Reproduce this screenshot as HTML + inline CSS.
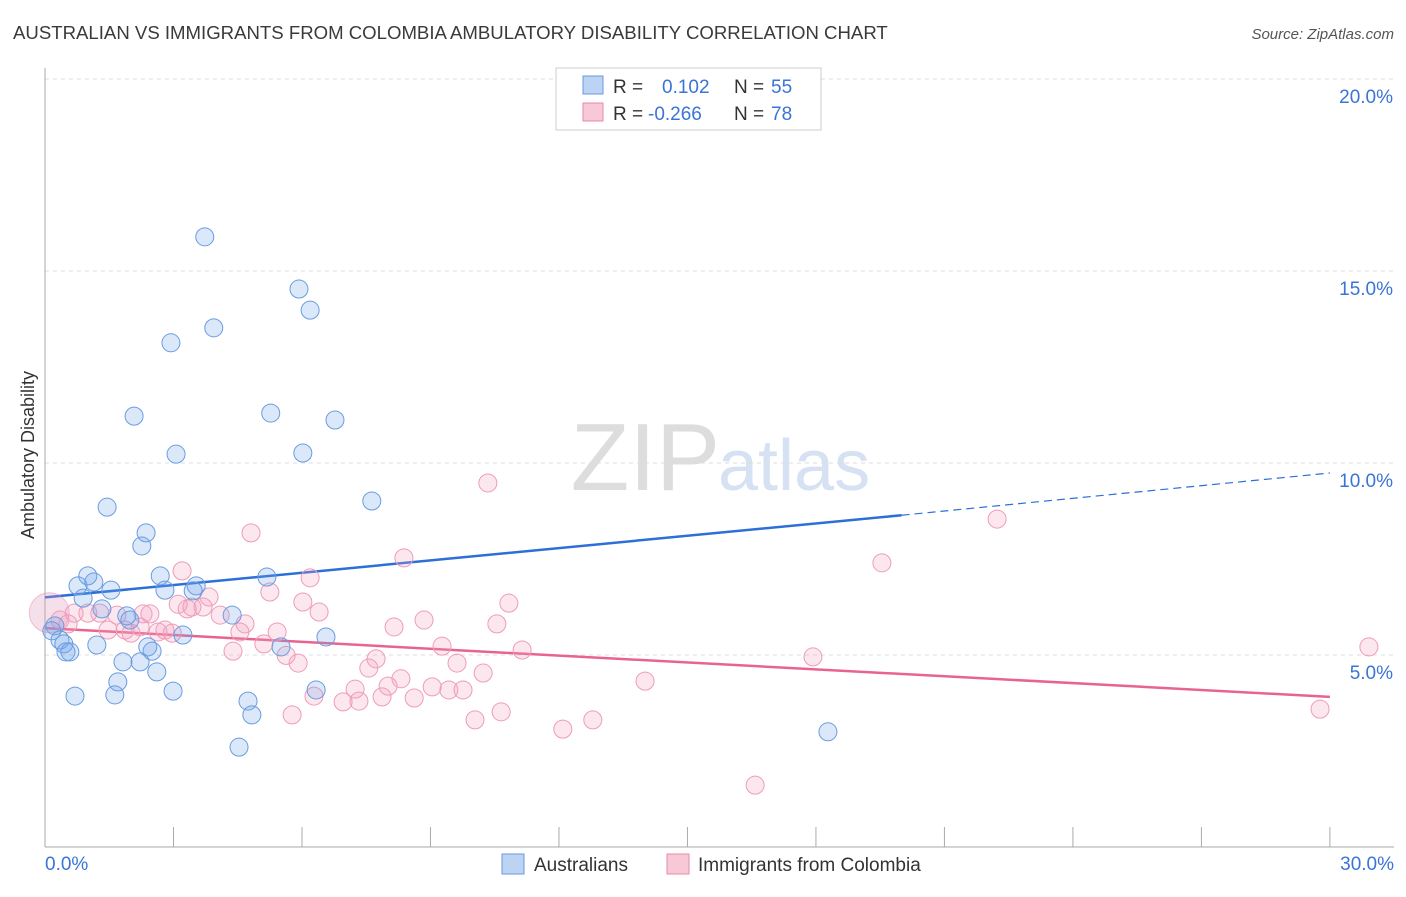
<!DOCTYPE html>
<html><head><meta charset="utf-8"><style>
body{margin:0;background:#fff;font-family:"Liberation Sans",sans-serif;}
svg text{font-family:"Liberation Sans",sans-serif;}
</style></head><body>
<svg id="c" width="1406" height="892">
<text x="13" y="39" font-size="18.6" fill="#3a3a3a">AUSTRALIAN VS IMMIGRANTS FROM COLOMBIA AMBULATORY DISABILITY CORRELATION CHART</text>
<text x="1394" y="39" font-size="15" fill="#555" font-style="italic" text-anchor="end">Source: ZipAtlas.com</text>
<text x="720" y="490" font-size="96" fill="#ddd" text-anchor="end" font-family="Liberation Serif">ZIP</text>
<text x="718" y="490" font-size="72" fill="#d6e2f3">atlas</text>
<text transform="translate(34,455) rotate(-90)" font-size="18" fill="#333" text-anchor="middle">Ambulatory Disability</text>
<g id="grid"></g><g id="ticks"></g><g id="lines"></g><g id="pts"></g>
<g>
<rect x="556" y="68" width="265" height="62" fill="#fff" stroke="#ccc"/>
<rect x="583" y="76" width="20" height="18" fill="#bcd3f3" stroke="#6a9ae0"/>
<text x="613" y="93" font-size="19" fill="#333">R =</text><text x="662" y="93" font-size="19" fill="#3a74d6">0.102</text>
<text x="734" y="93" font-size="19" fill="#333">N =</text><text x="771" y="93" font-size="19" fill="#3a74d6">55</text>
<rect x="583" y="103" width="20" height="18" fill="#f9c8d7" stroke="#e889a8"/>
<text x="613" y="120" font-size="19" fill="#333">R =</text><text x="648" y="120" font-size="19" fill="#3a74d6">-0.266</text>
<text x="734" y="120" font-size="19" fill="#333">N =</text><text x="771" y="120" font-size="19" fill="#3a74d6">78</text>
</g>
<g>
<rect x="502" y="854" width="22" height="20" fill="#bcd3f3" stroke="#6a9ae0"/>
<text x="534" y="871" font-size="19" fill="#333">Australians</text>
<rect x="667" y="854" width="22" height="20" fill="#f9c8d7" stroke="#e889a8"/>
<text x="698" y="871" font-size="19" fill="#333">Immigrants from Colombia</text>
</g>
</svg>
<script>
const yTicks=[5,10,15,20];
const xTickLabels=["0.0%","30.0%"];
const blueX=[3.73,5.93,6.19,3.94,2.94,2.08,5.27,6.77,3.06,6.02,7.63,1.45,2.36,2.26,1.00,0.77,1.14,2.69,5.18,1.54,2.80,3.53,3.46,0.89,1.33,1.91,4.37,1.98,0.23,0.16,0.35,0.44,1.21,3.22,6.56,2.40,2.50,0.49,0.58,1.82,2.22,2.61,5.51,1.70,2.99,0.70,1.63,6.33,4.74,4.83,4.53,18.28];
const blueY=[15.89,14.53,13.98,13.52,13.13,11.22,11.30,11.12,10.23,10.26,9.01,8.85,8.18,7.84,7.06,6.80,6.90,7.06,7.03,6.69,6.69,6.80,6.67,6.48,6.20,6.02,6.04,5.91,5.76,5.63,5.39,5.29,5.26,5.52,5.47,5.21,5.10,5.08,5.08,4.82,4.82,4.56,5.21,4.30,4.06,3.93,3.96,4.09,3.80,3.44,2.60,3.00];
const pinkX=[10.34,22.23,4.81,8.38,19.54,3.20,6.19,5.25,3.83,6.02,3.11,3.43,3.69,10.83,6.40,8.85,1.00,0.68,1.28,1.68,2.29,2.45,0.35,0.54,4.09,4.67,3.32,10.55,8.15,2.22,1.47,1.87,2.01,2.64,2.80,2.97,4.55,5.42,5.11,4.39,5.63,5.91,9.27,11.14,7.73,9.62,17.93,30.91,7.56,8.31,10.23,14.01,7.24,8.01,9.04,9.43,9.76,6.28,6.96,7.33,7.87,8.62,5.77,10.04,10.65,12.09,12.79,29.77,16.58];
const pinkY=[9.48,8.54,8.18,7.53,7.40,7.19,7.01,6.64,6.51,6.38,6.32,6.25,6.25,6.35,6.12,5.91,6.09,6.09,6.09,6.04,6.07,6.07,5.91,5.81,6.04,5.81,6.20,5.81,5.73,5.73,5.65,5.65,5.57,5.60,5.65,5.57,5.60,5.60,5.29,5.10,4.99,4.79,5.23,5.13,4.90,4.79,4.95,5.21,4.66,4.38,4.53,4.32,4.11,4.19,4.17,4.09,4.09,3.93,3.78,3.80,3.91,3.88,3.44,3.31,3.52,3.07,3.31,3.59,1.61];
const blueTrend=[0,6.5,20,8.64,30,9.74];
const pinkTrend=[0,5.70,30,3.91];
const X=v=>45+v*42.83, Y=v=>847-v*38.4;
const NS="http://www.w3.org/2000/svg";
function mk(g,t,a){const e=document.createElementNS(NS,t);for(const k in a)e.setAttribute(k,a[k]);document.getElementById(g).appendChild(e);return e;}
yTicks.forEach(t=>{
 const l=mk('grid','line',{x1:45,x2:1394,y1:Y(t),y2:Y(t),stroke:'#ddd','stroke-dasharray':'4,4'});
 
 
 const tx=mk('ticks','text',{x:1393,y:Y(t)+24,'font-size':19,fill:'#3a74d6','text-anchor':'end'});
 tx.textContent=t.toFixed(1)+'%';
 
 
});
mk('grid','line',{x1:45,x2:45,y1:68,y2:847,stroke:'#aaa'});
mk('grid','line',{x1:45,x2:1394,y1:847,y2:847,stroke:'#aaa'});
for(let i=1;i<=10;i++){mk('grid','line',{x1:X(i*3),x2:X(i*3),y1:827,y2:847,stroke:'#aaa'});}
const xl0=mk('ticks','text',{x:45,y:870,'font-size':19,fill:'#3a74d6'});xl0.textContent=xTickLabels[0];


const xl1=mk('ticks','text',{x:1394,y:870,'font-size':19,fill:'#3a74d6','text-anchor':'end'});xl1.textContent=xTickLabels[1];


const b1=mk('lines','line',{x1:X(blueTrend[0]),y1:Y(blueTrend[1]),x2:X(blueTrend[2]),y2:Y(blueTrend[3]),stroke:'#2c6fd6','stroke-width':2.5});


const b2=mk('lines','line',{x1:X(blueTrend[2]),y1:Y(blueTrend[3]),x2:X(blueTrend[4]),y2:Y(blueTrend[5]),stroke:'#2c6fd6','stroke-width':1.2,'stroke-dasharray':'8,5'});


const p1=mk('lines','line',{x1:X(pinkTrend[0]),y1:Y(pinkTrend[1]),x2:X(pinkTrend[2]),y2:Y(pinkTrend[3]),stroke:'#e8648f','stroke-width':2.5});


const big=mk('pts','circle',{cx:X(0.1),cy:Y(6.1),r:20,fill:'rgba(220,150,190,0.3)',stroke:'rgba(220,130,170,0.45)'});


pinkX.forEach((x,i)=>{const c=mk('pts','circle',{cx:X(x),cy:Y(pinkY[i]),r:9,fill:'rgba(244,160,190,0.25)',stroke:'#ee9cb8','stroke-width':1});
 
 });
blueX.forEach((x,i)=>{const c=mk('pts','circle',{cx:X(x),cy:Y(blueY[i]),r:9,fill:'rgba(110,165,235,0.25)',stroke:'#6a9ce0','stroke-width':1});
 
 });
</script>
</body></html>
